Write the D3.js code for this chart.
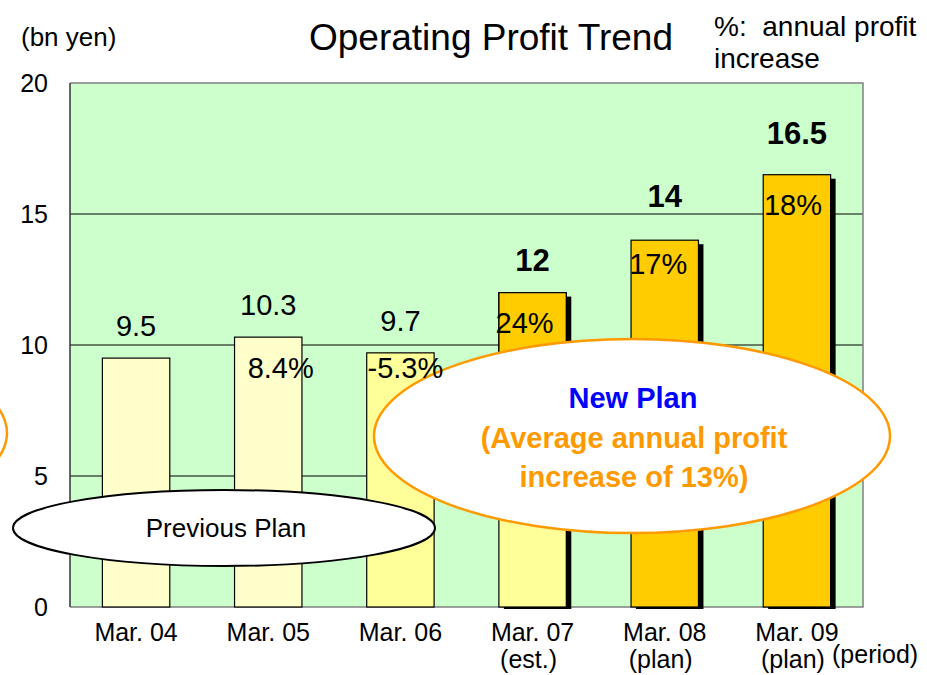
<!DOCTYPE html>
<html><head><meta charset="utf-8">
<script src="https://cdn.jsdelivr.net/npm/d3@7"></script>
<style>body{margin:0;background:#fff}svg{display:block;font-family:"Liberation Sans",Arial,sans-serif}</style>
</head><body><svg id="c" width="927" height="675"></svg>
<script>
const categories = ["Mar. 04","Mar. 05","Mar. 06","Mar. 07","Mar. 08","Mar. 09"];
const subLabels = ["","","","(est.)","(plan)","(plan)"];
const values = [9.5,10.3,9.7,12,14,16.5];
const growthLabels = ["","8.4%","-5.3%","24%","17%","18%"];
const boldValue = [false,false,false,true,true,true];
const barColors = ["#FFFFCC","#FFFFCC","#FFFF99","#FFFF99","#FFCC00","#FFCC00"];
const topColors = [null,null,null,"#FFCC00",null,null];
const hasShadow = [false,false,false,true,true,true];
const yTicks = [0,5,10,15,20];

// layout constants (pixels)
const valueDy = [22,22,22,22,33,31];
const pctDx = [0,12.5,5,-8,-6.5,-4];
const pctDy = [0,41,25,40,34,40];

const svg = d3.select("#c");
const L=70,R=863,T=83,B=607;
const x = d3.scaleBand().domain(categories).range([L,R]).paddingInner(0.49).paddingOuter(0.245);
const y = d3.scaleLinear().domain([0,20]).range([B,T]);

svg.append("rect").attr("x",L).attr("y",T).attr("width",R-L).attr("height",B-T).attr("fill","#CCFFCC");
svg.append("g").selectAll("line").data([5,10,15]).join("line")
  .attr("x1",L).attr("x2",R).attr("y1",d=>y(d)).attr("y2",d=>y(d)).attr("stroke","#000").attr("stroke-width",1);
// frame
svg.append("path").attr("d",`M${L},${T}H${R}V${B}H${L}`).attr("fill","none").attr("stroke","#808080").attr("stroke-width",1.5);
svg.append("line").attr("x1",L).attr("x2",L).attr("y1",T).attr("y2",B).attr("stroke","#333").attr("stroke-width",1.5);

// y axis
const yAxis = d3.axisLeft(y).tickValues(yTicks).tickSize(0).tickPadding(22).tickFormat(d3.format("d"));
const ya = svg.append("g").attr("transform",`translate(${L},0)`).call(yAxis);
ya.select(".domain").remove();
ya.selectAll("text").attr("font-size",25).attr("fill","#000").attr("font-family","Liberation Sans, Arial, sans-serif");

const idx = d3.range(categories.length);
// shadows
svg.append("g").selectAll("rect").data(idx.filter(i=>hasShadow[i])).join("rect")
  .attr("x",i=>x(categories[i])+5).attr("y",i=>y(values[i])+4)
  .attr("width",x.bandwidth()).attr("height",i=>B-y(values[i])-2).attr("fill","#000");
// bars
svg.append("g").selectAll("rect").data(idx).join("rect")
  .attr("x",i=>x(categories[i])).attr("y",i=>y(values[i]))
  .attr("width",x.bandwidth()).attr("height",i=>B-y(values[i]))
  .attr("fill",i=>barColors[i]).attr("stroke","#000").attr("stroke-width",1.2);
svg.append("g").selectAll("rect").data(idx.filter(i=>topColors[i])).join("rect")
  .attr("x",i=>x(categories[i])+0.6).attr("y",i=>y(values[i])+0.6)
  .attr("width",x.bandwidth()-1.2).attr("height",i=>y(5)-y(values[i]))
  .attr("fill",i=>topColors[i]);
svg.append("path").attr("d",idx.filter(i=>topColors[i]).map(i=>{const x0=x(categories[i]),w=x.bandwidth(),yt=y(values[i]);return `M${x0},${y(5)}V${yt}H${x0+w}V${y(5)}`}).join(""))
  .attr("fill","none").attr("stroke","#000").attr("stroke-width",1.2);

// x labels
const xl = svg.append("g");
idx.forEach(i=>{
  const cx = x(categories[i])+x.bandwidth()/2;
  xl.append("text").attr("x",cx).attr("y",641).attr("text-anchor","middle").attr("font-size",25).text(categories[i]);
  if(subLabels[i]) xl.append("text").attr("x",cx-4).attr("y",668).attr("text-anchor","middle").attr("font-size",25).text(subLabels[i]);
});
svg.append("text").attr("x",832).attr("y",663).attr("font-size",25).text("(period)");

// ellipses
svg.append("ellipse").attr("cx",-251).attr("cy",433).attr("rx",258).attr("ry",97).attr("fill","#fff").attr("stroke","#FF9900").attr("stroke-width",2.5);
svg.append("ellipse").attr("cx",224).attr("cy",528).attr("rx",211).attr("ry",38).attr("fill","#fff").attr("stroke","#000").attr("stroke-width",2);
svg.append("text").attr("x",226).attr("y",537).attr("text-anchor","middle").attr("font-size",26).text("Previous Plan");
svg.append("ellipse").attr("cx",632).attr("cy",436).attr("rx",258).attr("ry",97).attr("fill","#fff").attr("stroke","#FF9900").attr("stroke-width",2.5);
svg.append("text").attr("x",633).attr("y",408).attr("text-anchor","middle").attr("font-size",29).attr("font-weight","bold").attr("fill","#0000FF").text("New Plan");
svg.append("text").attr("x",634).attr("y",448).attr("text-anchor","middle").attr("font-size",29).attr("font-weight","bold").attr("fill","#FF9900").text("(Average annual profit");
svg.append("text").attr("x",634).attr("y",487).attr("text-anchor","middle").attr("font-size",29).attr("font-weight","bold").attr("fill","#FF9900").text("increase of 13%)");

// value labels
svg.append("g").selectAll("text").data(idx).join("text")
  .attr("x",i=>x(categories[i])+x.bandwidth()/2).attr("y",i=>y(values[i])-valueDy[i])
  .attr("text-anchor","middle").attr("font-size",i=>boldValue[i]?31:29).attr("font-weight",i=>boldValue[i]?"bold":"normal")
  .text(i=>values[i]);
// growth labels
svg.append("g").selectAll("text").data(idx.filter(i=>growthLabels[i])).join("text")
  .attr("x",i=>x(categories[i])+x.bandwidth()/2+pctDx[i]).attr("y",i=>y(values[i])+pctDy[i])
  .attr("text-anchor","middle").attr("font-size",29).text(i=>growthLabels[i]);

// titles
svg.append("text").attr("x",21).attr("y",46).attr("font-size",26).text("(bn yen)");
svg.append("text").attr("x",491).attr("y",50).attr("text-anchor","middle").attr("font-size",37).text("Operating Profit Trend");
svg.append("text").attr("x",714).attr("y",36).attr("font-size",28).attr("xml:space","preserve").text("%:  annual profit");
svg.append("text").attr("x",714).attr("y",68).attr("font-size",28).text("increase");
</script></body></html>
